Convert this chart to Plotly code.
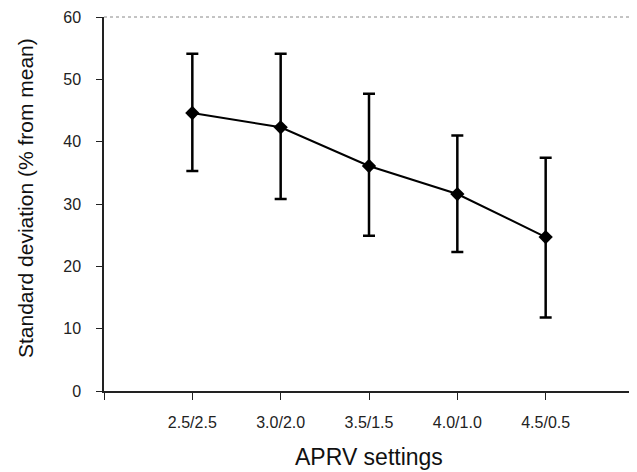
import plotly.graph_objects as go

categories = ["2.5/2.5", "3.0/2.0", "3.5/1.5", "4.0/1.0", "4.5/0.5"]
means = [44.6, 42.3, 36.1, 31.6, 24.7]
upper = [54.1, 54.1, 47.7, 41.0, 37.4]
lower = [35.3, 30.8, 24.9, 22.3, 11.8]

xpos = list(range(1, len(categories) + 1))
err_plus = [u - m for u, m in zip(upper, means)]
err_minus = [m - l for m, l in zip(means, lower)]

# tick marks also at both ends of the axis (unlabelled)
tickvals = [0] + xpos + [len(categories) + 1]
ticktext = [""] + categories + [""]

fig = go.Figure()
fig.add_trace(go.Scatter(
    x=xpos, y=means, mode="lines+markers",
    line=dict(color="black", width=2),
    marker=dict(symbol="diamond", size=11, color="black"),
    error_y=dict(type="data", symmetric=False, array=err_plus, arrayminus=err_minus,
                 color="black", thickness=2.5, width=6),
    showlegend=False,
))

fig.update_layout(
    width=629, height=464,
    margin=dict(l=96, r=3, t=9, b=81),
    paper_bgcolor="white", plot_bgcolor="white",
    font=dict(family="Liberation Sans, Arial, sans-serif", color="#111"),
    xaxis=dict(
        range=[0, len(categories) + 1], tickmode="array", tickvals=tickvals, ticktext=ticktext,
        showgrid=False, zeroline=False, showline=True, linecolor="#222", linewidth=1.5,
        ticks="outside", ticklen=7, tickcolor="#222", tickwidth=1.2,
        tickfont=dict(size=16, color="#222"), automargin=False,
        ticklabelstandoff=9,
    ),
    yaxis=dict(
        range=[0, 60], tickvals=[0, 10, 20, 30, 40, 50, 60],
        showgrid=False, zeroline=False, showline=True, linecolor="#222", linewidth=1.5,
        ticks="outside", ticklen=6, tickcolor="#222", tickwidth=1.2,
        tickfont=dict(size=16, color="#222"), automargin=False,
        ticklabelstandoff=12,
    ),
    shapes=[
        dict(type="line", xref="paper", yref="paper", x0=0, x1=1, y0=1, y1=1,
             line=dict(color="#888", width=1, dash="dot")),
        dict(type="line", xref="paper", yref="paper", x0=0.999, x1=0.999, y0=0, y1=1,
             line=dict(color="#888", width=1, dash="dot")),
    ],
    annotations=[
        dict(text="APRV settings", xref="paper", yref="paper", x=0.5, y=-0.176,
             xanchor="center", yanchor="middle", showarrow=False,
             font=dict(size=23, color="#111")),
        dict(text="Standard deviation (% from mean)", xref="paper", yref="paper",
             x=-0.149, y=0.516, xanchor="center", yanchor="middle", textangle=-90,
             showarrow=False, font=dict(size=21, color="#111")),
    ],
)

fig.write_html("out.html")
